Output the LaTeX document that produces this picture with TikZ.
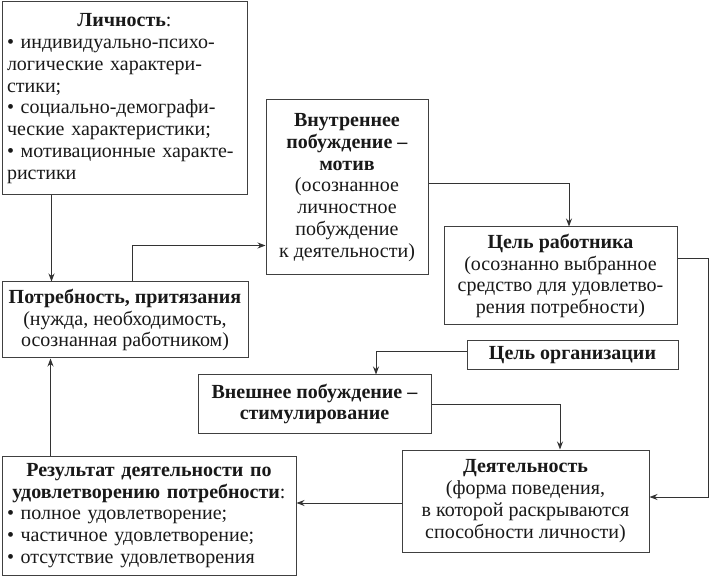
\documentclass[tikz,border=0pt]{standalone}
\usepackage{fontspec}
\setmainfont{Liberation Serif}
\usetikzlibrary{arrows.meta,calc}
\begin{document}
\begin{tikzpicture}[x=1pt,y=-1pt,
  box/.style={draw=black!75,line width=1pt,inner sep=0pt,align=center,
    font=\fontsize{20}{21.8}\selectfont,text=black!90},
  arr/.style={draw=black!80,line width=1pt,-{Stealth[length=8pt,width=6pt]}}]
\useasboundingbox (0,0) rectangle (710,577);
\fill[white] (0,0) rectangle (710,577);

\node[box,minimum width=245pt,minimum height=193pt,text width=235pt,align=left] (L) at (124.5,98.5)
 {\makebox[\linewidth]{\textbf{Личность}:}\\
  • индивидуально-психо-\\
  логические характери-\\
  стики;\\
  • социально-демографи-\\
  ческие характеристики;\\
  • мотивационные характе-\\
  ристики};

\node[box,minimum width=246pt,minimum height=76pt] (P) at (125,320)
 {\textbf{Потребность, притязания}\\(нужда, необходимость,\\осознанная работником)};

\node[box,minimum width=162pt,minimum height=175pt] (V) at (347,187.5)
 {\textbf{Внутреннее}\\\textbf{побуждение –}\\\textbf{мотив}\\(осознанное\\личностное\\побуждение\\к деятельности)};

\node[box,minimum width=233pt,minimum height=98pt] (CR) at (560.5,276)
 {\textbf{Цель работника}\\(осознанно выбранное\\средство для удовлетво-\\рения потребности)};

\node[box,minimum width=211pt,minimum height=29pt] (CO) at (572.5,355.5)
 {\textbf{Цель организации}};

\node[box,minimum width=233pt,minimum height=58pt] (VN) at (314.5,404)
 {\textbf{Внешнее побуждение –}\\\textbf{стимулирование}};

\node[box,minimum width=247pt,minimum height=102pt] (D) at (525.5,501)
 {\textbf{Деятельность}\\(форма поведения,\\в которой раскрываются\\способности личности)};

\node[box,minimum width=294pt,minimum height=119pt,text width=284pt,align=left] (R) at (149,515.5)
 {\makebox[\linewidth]{\textbf{Результат деятельности по}}\\
  \makebox[\linewidth]{\textbf{удовлетворению потребности}:}\\
  • полное удовлетворение;\\
  • частичное удовлетворение;\\
  • отсутствие удовлетворения};

\coordinate (l1) at ([xshift=50pt]L.south west);
\draw[arr] (l1) -- (l1 |- P.north);
\coordinate (p1) at ([xshift=131pt]P.north west);
\coordinate (v1) at ([yshift=-58pt]V.west);
\draw[arr] (p1) |- (v1);
\coordinate (v2) at ([yshift=3.5pt]V.east);
\coordinate (c1) at ([xshift=8.5pt]CR.north);
\draw[arr] (v2) -| (c1);
\coordinate (c2) at ([yshift=17pt]CR.east);
\coordinate (d2) at ([yshift=4pt]D.east);
\draw[arr] (c2) -- ++(31,0) |- (d2);
\coordinate (o1) at ([yshift=3.5pt]CO.west);
\coordinate (n1) at ([xshift=61.5pt]VN.north);
\draw[arr] (o1) -| (n1);
\coordinate (n2) at ([yshift=-1pt]VN.east);
\coordinate (d3) at ([xshift=34.5pt]D.north);
\draw[arr] (n2) -| (d3);
\coordinate (d1) at ([yshift=-2pt]D.west);
\draw[arr] (d1) -- (d1 -| R.east);
\coordinate (r1) at ([xshift=49pt]R.north west);
\draw[arr] (r1) -- (r1 |- P.south);
\end{tikzpicture}
\end{document}
